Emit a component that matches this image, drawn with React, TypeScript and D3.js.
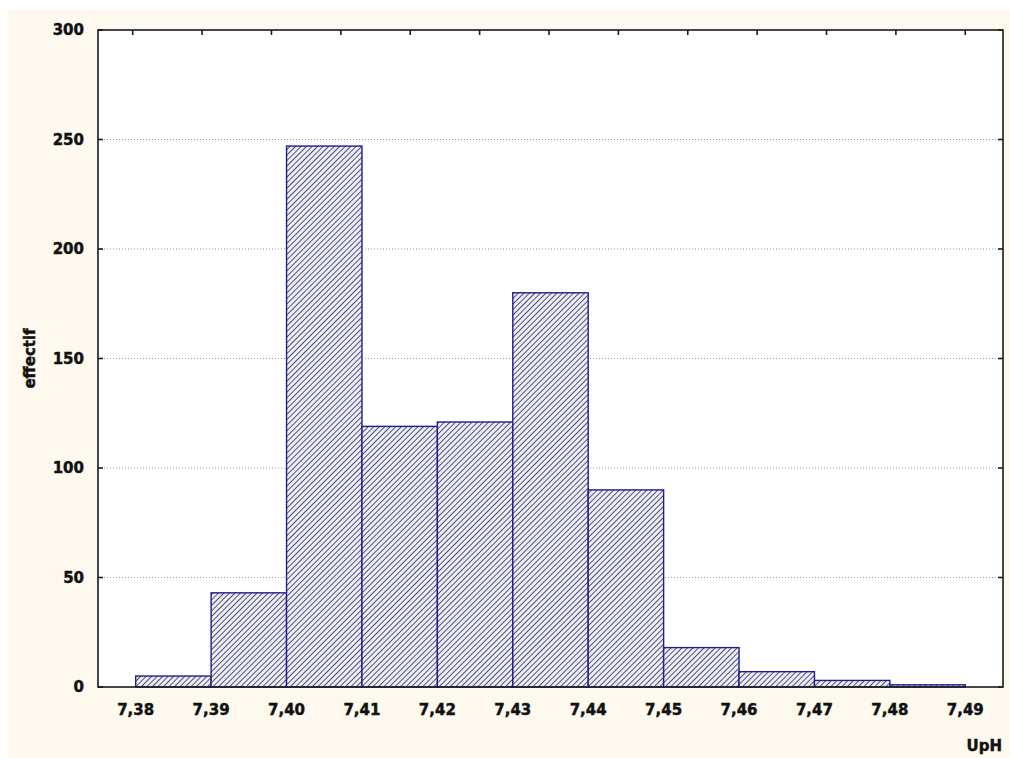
import React from "react";
import * as d3 from "d3";

const binStarts = [7.38, 7.39, 7.40, 7.41, 7.42, 7.43, 7.44, 7.45, 7.46, 7.47, 7.48];
const counts = [5, 43, 247, 119, 121, 180, 90, 18, 7, 3, 1];
const xTickValues = [7.38, 7.39, 7.40, 7.41, 7.42, 7.43, 7.44, 7.45, 7.46, 7.47, 7.48, 7.49];
const yTickValues = [0, 50, 100, 150, 200, 250, 300];
const topTickValues = [7.3796, 7.3888, 7.3980, 7.4072, 7.4164, 7.4256, 7.4348, 7.4440, 7.4532, 7.4624, 7.4716, 7.4808, 7.4900];
const binWidth = 0.01;
const xLabel = "UpH";
const yLabel = "effectif";

const W = 1010;
const H = 758;
const left = 98, right = 1003, top = 30, bottom = 687;
const FONT = "'DejaVu Sans', sans-serif";

const textProps = {
  fontFamily: FONT,
  fontWeight: "bold" as const,
  fontSize: 15,
  fill: "#111",
  stroke: "#111",
  strokeWidth: 0.45,
};

export default function App() {
  const x = d3.scaleLinear().domain([7.375, 7.495]).range([left, right]);
  const y = d3.scaleLinear().domain([0, 300]).range([bottom, top]);
  const fmt = (v: number) => v.toFixed(2).replace(".", ",");

  return (
    <svg width={W} height={H} style={{ position: "absolute", left: 0, top: 0 }}>
      <defs>
        <pattern id="hatch" patternUnits="userSpaceOnUse" width="3.9" height="3.9" patternTransform="rotate(45)">
          <rect width="3.9" height="3.9" fill="#eeeef9" />
          <line x1="0" y1="0" x2="0" y2="3.9" stroke="#34345f" strokeWidth="1.7" />
        </pattern>
      </defs>
      <rect x={0} y={0} width={W} height={H} fill="#ffffff" />
      <rect x={8} y={10} width={W - 8} height={H - 10} fill="#fdf9ee" />
      <rect x={left} y={top} width={right - left} height={bottom - top} fill="#ffffff" />

      {/* gridlines */}
      {yTickValues.filter((v) => v > 0 && v < 300).map((v) => (
        <line key={"g" + v} x1={left} x2={right} y1={y(v)} y2={y(v)} stroke="#9a9a9a" strokeWidth={1} strokeDasharray="1,2" />
      ))}

      {/* bars */}
      {binStarts.map((b, i) => (
        <rect
          key={"b" + i}
          x={x(b)}
          y={y(counts[i])}
          width={x(b + binWidth) - x(b)}
          height={y(0) - y(counts[i])}
          fill="url(#hatch)"
          stroke="#1e1e8c"
          strokeWidth={1.4}
        />
      ))}

      {/* frame */}
      <rect x={left} y={top} width={right - left} height={bottom - top} fill="none" stroke="#1a1a1a" strokeWidth={1.6} />

      {/* top ticks */}
      {topTickValues.map((v, i) => (
        <line key={"t" + i} x1={x(v)} x2={x(v)} y1={top} y2={top + 5} stroke="#1a1a1a" strokeWidth={1.6} />
      ))}

      {/* y ticks left & right */}
      {yTickValues.map((v) => (
        <g key={"y" + v}>
          <line x1={left} x2={left + 5} y1={y(v)} y2={y(v)} stroke="#1a1a1a" strokeWidth={1.6} />
          <line x1={right - 5} x2={right} y1={y(v)} y2={y(v)} stroke="#1a1a1a" strokeWidth={1.6} />
          <text x={84} y={y(v)} textAnchor="end" dominantBaseline="central" {...textProps}>
            {v}
          </text>
        </g>
      ))}

      {/* x tick labels */}
      {xTickValues.map((v) => (
        <text key={"x" + v} x={x(v)} y={710} textAnchor="middle" dominantBaseline="central" {...textProps}>
          {fmt(v)}
        </text>
      ))}

      <text x={1002} y={746} textAnchor="end" dominantBaseline="central" {...textProps}>
        {xLabel}
      </text>
      <text
        transform={`translate(30, ${(top + bottom) / 2}) rotate(-90)`}
        textAnchor="middle"
        dominantBaseline="central"
        {...textProps}
      >
        {yLabel}
      </text>
    </svg>
  );
}
